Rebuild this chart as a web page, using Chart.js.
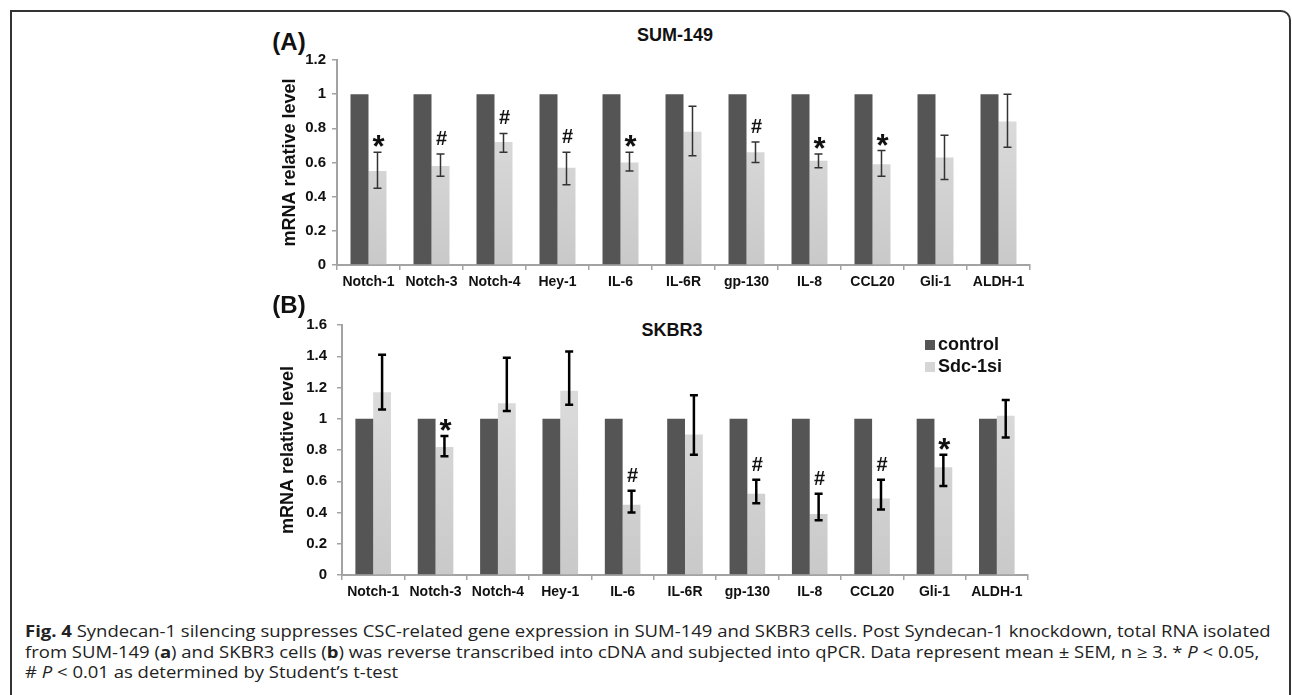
<!DOCTYPE html>
<html>
<head>
<meta charset="utf-8">
<title>Fig. 4</title>
<script src="https://cdn.jsdelivr.net/npm/chart.js@4/dist/chart.umd.min.js"></script>
<style>
    body { margin: 0; width: 1292px; height: 695px; background: #fff; position: relative; overflow: hidden; font-family: "Liberation Sans", Arial, sans-serif; }
    .frame { position: absolute; left: 10px; top: 10px; width: 1277px; height: 700px; border: 2px solid #333; border-top-right-radius: 10px; }
    .chart-box { position: absolute; left: 220px; width: 830px; }
    #box-a { top: 15px; height: 290px; }
    #box-b { top: 300px; height: 315px; }
    .lbl { position: absolute; transform: translate(-50%, -50%); font-weight: bold; color: #111; white-space: nowrap; }
    .panel { font-size: 24px; }
    .ttl { font-size: 18px; }
    .legend { position: absolute; left: 925px; top: 333px; font-weight: bold; font-size: 18px; color: #111; }
    .legend div { height: 22px; line-height: 22px; white-space: nowrap; }
    .legend span { display: inline-block; width: 10px; height: 10px; margin-right: 3px; vertical-align: 0px; }
    .caption { position: absolute; left: 25px; top: 621px; font-family: "Open Sans", sans-serif; font-size: 16px; line-height: 20.6px; color: #222; white-space: nowrap; transform: scaleX(1.155); transform-origin: 0 0; }
</style>
</head>
<body>
<div class="frame"></div>

<div class="lbl panel" style="left:289px; top:42px;">(A)</div>
<div class="lbl ttl" style="left:675px; top:35px;">SUM-149</div>
<div class="chart-box" id="box-a"><canvas id="chartA"></canvas></div>

<div class="lbl panel" style="left:289px; top:305px;">(B)</div>
<div class="lbl ttl" style="left:672px; top:330px;">SKBR3</div>
<div class="chart-box" id="box-b"><canvas id="chartB"></canvas></div>

<div class="legend" id="legend"></div>

<div class="caption">
    <div><b>Fig. 4</b> Syndecan-1 silencing suppresses CSC-related gene expression in SUM-149 and SKBR3 cells. Post Syndecan-1 knockdown, total RNA isolated</div>
    <div>from SUM-149 (<b>a</b>) and SKBR3 cells (<b>b</b>) was reverse transcribed into cDNA and subjected into qPCR. Data represent mean ± SEM, n ≥ 3. * <i>P</i> &lt; 0.05,</div>
    <div># <i>P</i> &lt; 0.01 as determined by Student’s t-test</div>
</div>

<script>
// --- data ---
const genes = ['Notch-1', 'Notch-3', 'Notch-4', 'Hey-1', 'IL-6', 'IL-6R', 'gp-130', 'IL-8', 'CCL20', 'Gli-1', 'ALDH-1'];
const seriesNames = ['control', 'Sdc-1si'];

// (A) SUM-149
const controlA = [1, 1, 1, 1, 1, 1, 1, 1, 1, 1, 1];
const sdcA     = [0.55, 0.58, 0.72, 0.57, 0.60, 0.78, 0.66, 0.61, 0.59, 0.63, 0.84];
const sdcHighA = [0.66, 0.65, 0.77, 0.66, 0.66, 0.93, 0.72, 0.65, 0.67, 0.76, 1.00];
const sdcLowA  = [0.45, 0.52, 0.66, 0.47, 0.55, 0.64, 0.60, 0.57, 0.52, 0.50, 0.69];
const marksA   = ['*', '#', '#', '#', '*', '', '#', '*', '*', '', ''];
const yTicksA  = [0, 0.2, 0.4, 0.6, 0.8, 1, 1.2];

// (B) SKBR3
const controlB = [1, 1, 1, 1, 1, 1, 1, 1, 1, 1, 1];
const sdcB     = [1.17, 0.82, 1.10, 1.18, 0.45, 0.90, 0.52, 0.39, 0.49, 0.69, 1.02];
const sdcHighB = [1.41, 0.89, 1.39, 1.43, 0.54, 1.15, 0.61, 0.52, 0.61, 0.77, 1.12];
const sdcLowB  = [1.06, 0.76, 1.05, 1.09, 0.40, 0.77, 0.46, 0.35, 0.42, 0.57, 0.88];
const marksB   = ['', '*', '', '', '#', '', '#', '#', '#', '*', ''];
const yTicksB  = [0, 0.2, 0.4, 0.6, 0.8, 1, 1.2, 1.4, 1.6];

const darkGray = '#555555';
const axisGray = '#a3a3a3';

Chart.defaults.font.family = '"Liberation Sans", Arial, sans-serif';
Chart.defaults.color = '#111';

// light gray bar with a soft vertical gradient
function lightFill(context) {
    const area = context.chart.chartArea;
    if (!area) return '#d6d6d6';
    const g = context.chart.ctx.createLinearGradient(0, area.top, 0, area.bottom);
    g.addColorStop(0, '#e2e2e2');
    g.addColorStop(1, '#c9c9c9');
    return g;
}

// error bars + significance marks on the Sdc-1si bars
const errorBars = {
    id: 'errorBars',
    afterDatasetsDraw(chart, args, opts) {
        const ctx = chart.ctx;
        const y = chart.scales.y;
        const meta = chart.getDatasetMeta(1);
        ctx.save();
        ctx.strokeStyle = opts.color;
        ctx.lineWidth = opts.width;
        meta.data.forEach((bar, i) => {
            const x = bar.x;
            const top = y.getPixelForValue(opts.high[i]);
            const bot = y.getPixelForValue(opts.low[i]);
            ctx.beginPath();
            ctx.moveTo(x, top); ctx.lineTo(x, bot);
            ctx.moveTo(x - 4, top); ctx.lineTo(x + 4, top);
            ctx.moveTo(x - 4, bot); ctx.lineTo(x + 4, bot);
            ctx.stroke();

            const mark = opts.marks[i];
            if (mark) {
                ctx.fillStyle = '#111';
                ctx.textAlign = 'center';
                ctx.textBaseline = 'alphabetic';
                if (mark === '*') {
                    ctx.font = 'bold 31px "Liberation Sans", Arial';
                    ctx.fillText(mark, x + 1, top + 5);
                } else {
                    ctx.font = 'bold 20px "Liberation Sans", Arial';
                    ctx.fillText(mark, x + 1, top - 9);
                }
            }
        });
        ctx.restore();
    }
};

function makeChart(canvasId, control, sdc, high, low, marks, ticks, cfg) {
    return new Chart(document.getElementById(canvasId), {
        type: 'bar',
        data: {
            labels: genes,
            datasets: [
                { label: seriesNames[0], data: control, backgroundColor: darkGray },
                { label: seriesNames[1], data: sdc, backgroundColor: lightFill }
            ]
        },
        options: {
            responsive: true,
            maintainAspectRatio: false,
            animation: false,
            layout: { padding: { top: cfg.padTop, right: cfg.padRight, bottom: 5, left: 0 } },
            datasets: { bar: { categoryPercentage: 0.571, barPercentage: 1.0 } },
            scales: {
                x: {
                    grid: { drawOnChartArea: false, color: axisGray, lineWidth: 1.5, tickLength: 5 },
                    border: { color: axisGray, width: 2 },
                    ticks: { font: { size: 14, weight: 'bold' }, padding: 4, maxRotation: 0, autoSkip: false },
                    afterFit: s => { s.height = 35; }
                },
                y: {
                    min: ticks[0],
                    max: ticks[ticks.length - 1],
                    afterBuildTicks: s => { s.ticks = ticks.map(v => ({ value: v })); },
                    grid: { drawOnChartArea: false, color: axisGray, lineWidth: 1.5, tickLength: 5 },
                    border: { color: axisGray, width: 2 },
                    ticks: { font: { size: 15, weight: 'bold' }, padding: cfg.tickPad, callback: v => String(v) },
                    title: {
                        display: true,
                        text: 'mRNA relative level',
                        font: { size: 18, weight: 'bold' },
                        padding: { top: cfg.titlePad, bottom: 0 }
                    },
                    afterFit: s => { s.width = cfg.yWidth; }
                }
            },
            plugins: {
                legend: { display: false },
                tooltip: { enabled: false },
                errorBars: { high: high, low: low, marks: marks, color: cfg.errColor, width: cfg.errWidth }
            }
        },
        plugins: [errorBars]
    });
}

document.addEventListener('DOMContentLoaded', () => {
    const chartA = makeChart('chartA', controlA, sdcA, sdcHighA, sdcLowA, marksA, yTicksA,
        { padTop: 45, padRight: 20, yWidth: 117, tickPad: 6, titlePad: 59, errColor: '#333', errWidth: 1.5 });
    makeChart('chartB', controlB, sdcB, sdcHighB, sdcLowB, marksB, yTicksB,
        { padTop: 25, padRight: 22, yWidth: 122, tickPad: 10, titlePad: 57, errColor: '#000', errWidth: 2.5 });

    // legend built from the dataset names / colours
    const legend = document.getElementById('legend');
    const swatches = [darkGray, '#d6d6d6'];
    chartA.data.datasets.forEach((ds, i) => {
        const row = document.createElement('div');
        row.innerHTML = '<span style="background:' + swatches[i] + '"></span>' + ds.label;
        legend.appendChild(row);
    });
});
</script>
</body>
</html>
